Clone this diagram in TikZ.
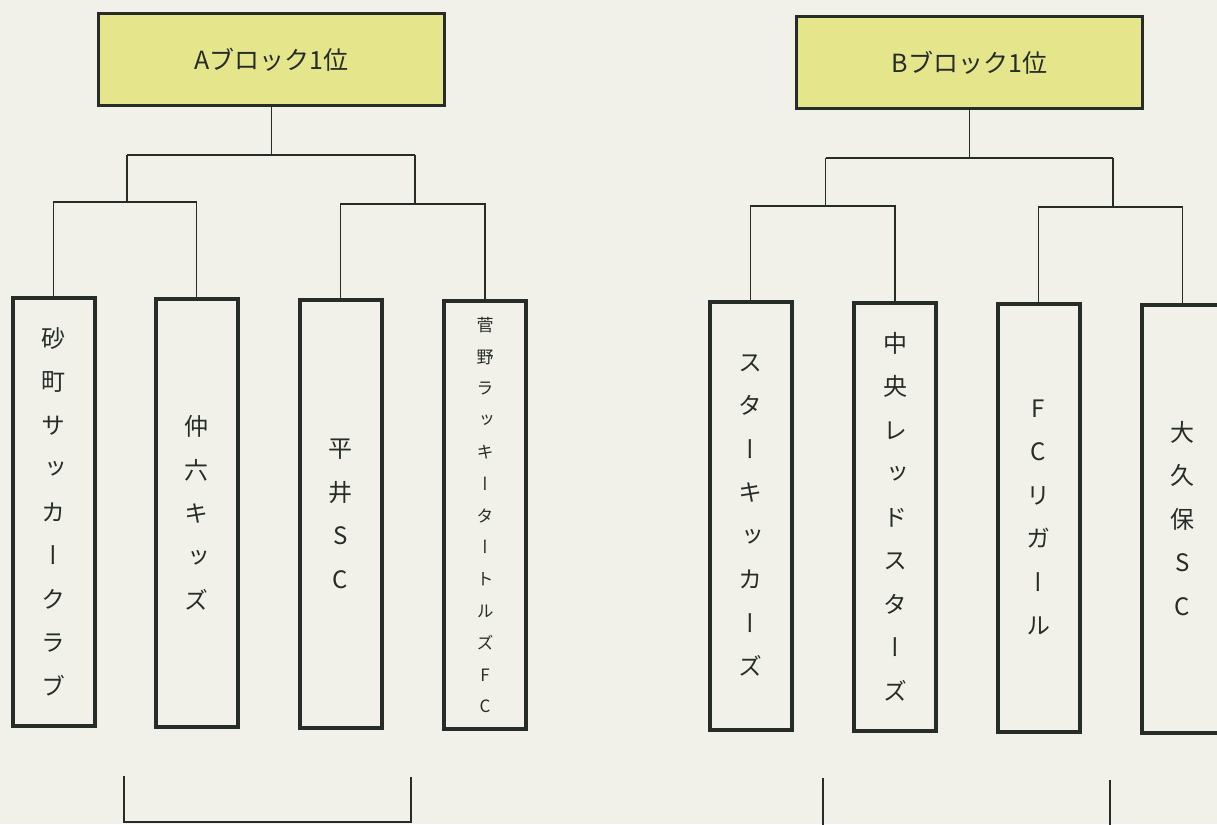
\documentclass[tikz,border=0pt]{standalone}
\usepackage{fontspec}
\setmainfont{Noto Sans CJK JP}
\newfontfamily\tate[RawFeature={+vert}]{Noto Sans CJK JP}
\definecolor{paper}{RGB}{241,241,234}
\definecolor{ink}{RGB}{38,44,40}
\definecolor{winfill}{RGB}{229,229,139}

\begin{document}
\begin{tikzpicture}[x=1pt, y=-1pt, color=ink, line width=1.8pt,
      every node/.style = {shape=rectangle, draw=ink, align=center, inner sep=0pt},
      winner/.style = {line width=3pt, fill=winfill, minimum width=346pt,
        minimum height=92pt, font=\fontsize{25}{28}\selectfont},
      team/.style = {line width=4pt, minimum width=82pt, minimum height=428pt,
        font=\tate\fontsize{24}{43.5}\selectfont},
      small/.style = {font=\tate\fontsize{17}{31.8}\selectfont}]
  \fill[paper] (0,0) rectangle (1217,824);
  \useasboundingbox (0,0) rectangle (1217,824);

  % A block
  \node[winner] (A) at (271.5,59.5) {Aブロック1位};
  \node[team] (t1) at (53.5,511.5) {砂\\町\\サ\\ッ\\カ\\ー\\ク\\ラ\\ブ};
  \node[team] (t2) at (196.5,513) {仲\\六\\キ\\ッ\\ズ};
  \node[team] (t3) at (340.5,514) {平\\井\\S\\C};
  \node[team,small] (t4) at (485,515) {菅\\野\\ラ\\ッ\\キ\\ー\\タ\\ー\\ト\\ル\\ズ\\F\\C};

  \coordinate (a-l) at (127,155);
  \coordinate (a-r) at (415,155);
  \draw (A.south) |- (a-l) (A.south) |- (a-r);
  \draw (a-l) -- ++(0,47) coordinate (a-lj) -| (t1.north) (a-lj) -| (t2.north);
  \draw (a-r) -- ++(0,49) coordinate (a-rj) -| (t3.north) (a-rj) -| (t4.north);

  % B block
  \node[winner] (B) at (969.5,62.5) {Bブロック1位};
  \node[team] (t5) at (750.5,515.5) {ス\\タ\\ー\\キ\\ッ\\カ\\ー\\ズ};
  \node[team] (t6) at (895,516.5) {中\\央\\レ\\ッ\\ド\\ス\\タ\\ー\\ズ};
  \node[team] (t7) at (1038.5,517.5) {F\\C\\リ\\ガ\\ー\\ル};
  \node[team] (t8) at (1182.5,518.5) {大\\久\\保\\S\\C};

  \coordinate (b-l) at (825.5,158);
  \coordinate (b-r) at (1113,158);
  \draw (B.south) |- (b-l) (B.south) |- (b-r);
  \draw (b-l) -- ++(0,48) coordinate (b-lj) -| (t5.north) (b-lj) -| (t6.north);
  \draw (b-r) -- ++(0,49) coordinate (b-rj) -| (t7.north) (b-rj) -| (t8.north);

  % next round
  \coordinate (c-a) at (124,776);
  \coordinate (c-b) at (411,777);
  \coordinate (c-c) at (823,778);
  \coordinate (c-d) at (1110,780);
  \draw (c-a) -- ++(0,46) -| (c-b);
  \draw (c-c) -- ++(0,50) (c-d) -- ++(0,50);
\end{tikzpicture}
\end{document}
